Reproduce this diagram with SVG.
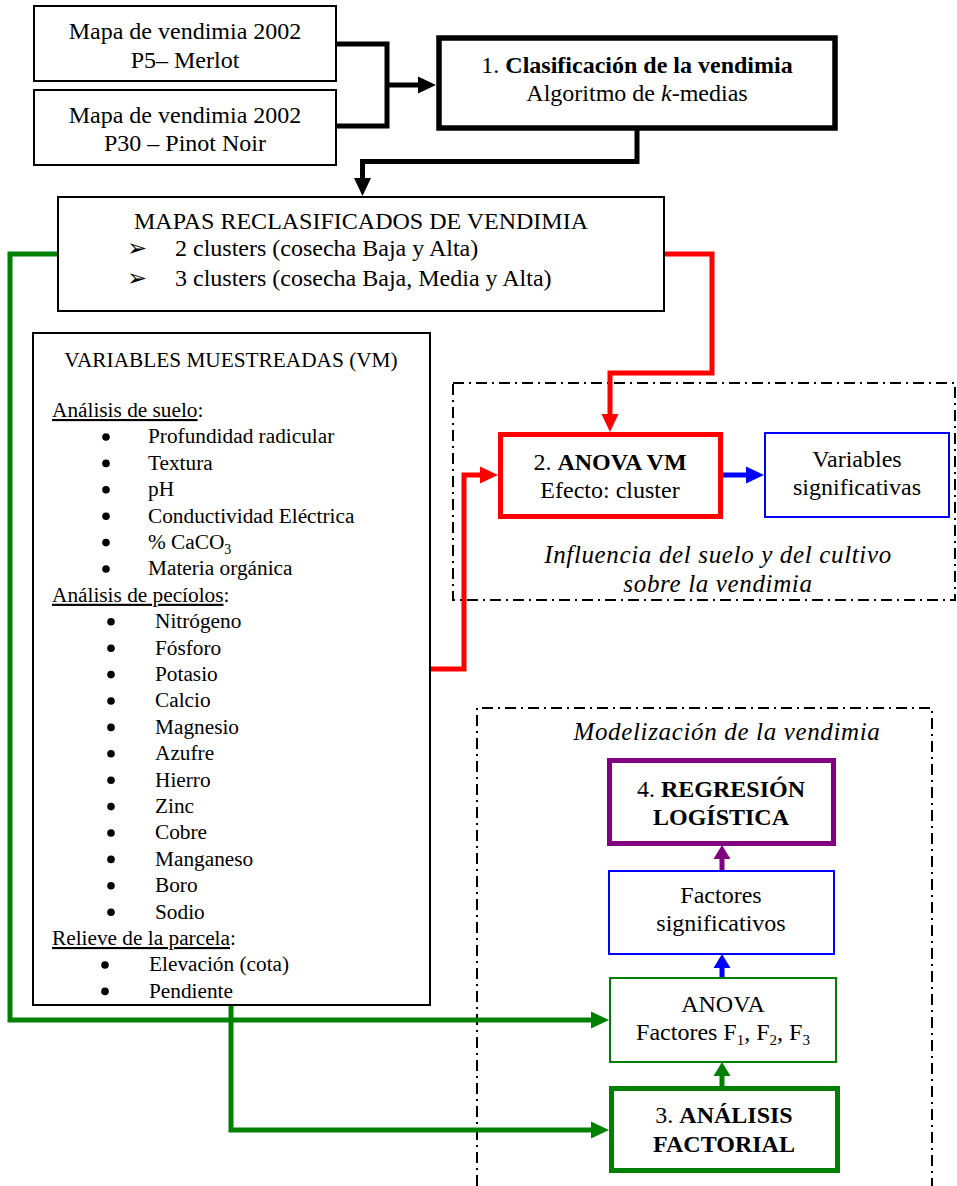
<svg xmlns="http://www.w3.org/2000/svg" width="957" height="1186" viewBox="0 0 957 1186">
<style>
.t{font-family:"Liberation Serif","Times New Roman",serif;font-size:24px;fill:#000}
.c{text-anchor:middle}
.l{font-size:21.3px}
.b{font-weight:bold}
.i{font-style:italic;font-size:25px;letter-spacing:0.65px}
.k{font-style:italic}
.u{text-decoration:underline}
.box{fill:#fff;stroke:#000;stroke-width:2}
.thick{fill:#fff;stroke:#000;stroke-width:5.5}
.dd{fill:none;stroke:#000;stroke-width:2;stroke-dasharray:11 5 2 5}
.ln{fill:none;stroke-width:5}
.dot{fill:#000}
.arr{font-family:"DejaVu Sans",sans-serif;font-size:24px;fill:#000}
</style>
<defs>
<marker id="mk" markerUnits="userSpaceOnUse" markerWidth="18" markerHeight="17" refX="0" refY="8.5" orient="auto" overflow="visible"><path d="M0,0 L18,8.5 L0,17 z" fill="#000"/></marker>
<marker id="mr" markerUnits="userSpaceOnUse" markerWidth="18" markerHeight="17" refX="0" refY="8.5" orient="auto" overflow="visible"><path d="M0,0 L18,8.5 L0,17 z" fill="#FF0000"/></marker>
<marker id="mg" markerUnits="userSpaceOnUse" markerWidth="18" markerHeight="17" refX="0" refY="8.5" orient="auto" overflow="visible"><path d="M0,0 L18,8.5 L0,17 z" fill="#008000"/></marker>
<marker id="mb" markerUnits="userSpaceOnUse" markerWidth="18" markerHeight="17" refX="0" refY="8.5" orient="auto" overflow="visible"><path d="M0,0 L18,8.5 L0,17 z" fill="#0000FF"/></marker>
<marker id="mgs" markerUnits="userSpaceOnUse" markerWidth="14" markerHeight="17" refX="0" refY="8.5" orient="auto" overflow="visible"><path d="M0,0 L14,8.5 L0,17 z" fill="#008000"/></marker>
<marker id="mbs" markerUnits="userSpaceOnUse" markerWidth="14" markerHeight="17" refX="0" refY="8.5" orient="auto" overflow="visible"><path d="M0,0 L14,8.5 L0,17 z" fill="#0000FF"/></marker>
<marker id="mps" markerUnits="userSpaceOnUse" markerWidth="14" markerHeight="17" refX="0" refY="8.5" orient="auto" overflow="visible"><path d="M0,0 L14,8.5 L0,17 z" fill="#800080"/></marker>
</defs>
<rect width="957" height="1186" fill="#fff"/>

<!-- dash-dot frames -->
<g id="frames">
<rect class="dd" x="453" y="383" width="502" height="217"/>
<path class="dd" d="M477,1186 V708 H932 V1186"/>
</g>

<!-- connectors -->
<g id="connectors">
<path class="ln" stroke="#000" d="M336,44 H387 V126 H336"/>
<path class="ln" stroke="#000" d="M387,85 H418" marker-end="url(#mk)"/>
<path class="ln" stroke="#000" d="M637,130 V161.5 H362.5 V178" marker-end="url(#mk)"/>
<path class="ln" stroke="#FF0000" d="M664,254 H712 V373 H610 V414" marker-end="url(#mr)"/>
<path class="ln" stroke="#FF0000" d="M430,669 H464 V475 H480" marker-end="url(#mr)"/>
<path class="ln" stroke="#0000FF" d="M723,475 H746" marker-end="url(#mb)"/>
<path class="ln" stroke="#008000" d="M58,254 H10 V1020 H591" marker-end="url(#mg)"/>
<path class="ln" stroke="#008000" d="M231,1005 V1130 H591" marker-end="url(#mg)"/>
<path class="ln" stroke="#008000" d="M722,1086 V1076" marker-end="url(#mgs)"/>
<path class="ln" stroke="#0000FF" d="M722,978 V968" marker-end="url(#mbs)"/>
<path class="ln" stroke="#800080" d="M722,871 V859" marker-end="url(#mps)"/>
</g>

<g id="mapa-p5">
<rect class="box" x="34" y="6" width="302" height="75"/>
<text class="t c" x="185" y="39">Mapa de vendimia 2002</text>
<text class="t c" x="185" y="68">P5– Merlot</text>
</g>

<g id="mapa-p30">
<rect class="box" x="34" y="90" width="302" height="75"/>
<text class="t c" x="185" y="123">Mapa de vendimia 2002</text>
<text class="t c" x="185" y="151">P30 – Pinot Noir</text>
</g>

<g id="clasificacion">
<rect class="thick" x="439" y="38" width="396" height="90"/>
<text class="t c" x="637" y="73">1. <tspan class="b">Clasificación de la vendimia</tspan></text>
<text class="t c" x="637" y="101">Algoritmo de <tspan class="k">k</tspan>-medias</text>
</g>

<g id="mapas-reclasificados">
<rect class="box" x="58" y="197" width="606" height="114"/>
<text class="t c" x="361" y="229">MAPAS RECLASIFICADOS DE VENDIMIA</text>
<text class="arr" x="127" y="256">➢</text>
<text class="t" x="175" y="256">2 clusters (cosecha Baja y Alta)</text>
<text class="arr" x="127" y="286">➢</text>
<text class="t" x="175" y="286">3 clusters (cosecha Baja, Media y Alta)</text>
</g>

<g id="variables-muestreadas">
<rect class="box" x="33" y="333" width="397" height="672"/>
<text class="t l c" x="231" y="367">VARIABLES MUESTREADAS (VM)</text>
<text class="t l" x="52" y="417"><tspan class="u">Análisis de suelo</tspan>:</text>
<g class="dot">
<circle cx="106" cy="437" r="3.8"/><circle cx="106" cy="463.4" r="3.8"/><circle cx="106" cy="489.8" r="3.8"/>
<circle cx="106" cy="516.2" r="3.8"/><circle cx="106" cy="542.6" r="3.8"/><circle cx="106" cy="569" r="3.8"/>
<circle cx="111" cy="621.8" r="3.8"/><circle cx="111" cy="648.2" r="3.8"/><circle cx="111" cy="674.6" r="3.8"/>
<circle cx="111" cy="701" r="3.8"/><circle cx="111" cy="727.4" r="3.8"/><circle cx="111" cy="753.8" r="3.8"/>
<circle cx="111" cy="780.2" r="3.8"/><circle cx="111" cy="806.6" r="3.8"/><circle cx="111" cy="833" r="3.8"/>
<circle cx="111" cy="859.4" r="3.8"/><circle cx="111" cy="885.8" r="3.8"/><circle cx="111" cy="912.2" r="3.8"/>
<circle cx="105" cy="965" r="3.8"/><circle cx="105" cy="991.4" r="3.8"/>
</g>
<text class="t l" x="148" y="443.4">Profundidad radicular</text>
<text class="t l" x="148" y="469.8">Textura</text>
<text class="t l" x="148" y="496.2">pH</text>
<text class="t l" x="148" y="522.6">Conductividad Eléctrica</text>
<text class="t l" x="148" y="549">% CaCO<tspan dy="5" font-size="14">3</tspan></text>
<text class="t l" x="148" y="575.4">Materia orgánica</text>
<text class="t l" x="52" y="601.8"><tspan class="u">Análisis de pecíolos</tspan>:</text>
<text class="t l" x="155" y="628.2">Nitrógeno</text>
<text class="t l" x="155" y="654.6">Fósforo</text>
<text class="t l" x="155" y="681">Potasio</text>
<text class="t l" x="155" y="707.4">Calcio</text>
<text class="t l" x="155" y="733.8">Magnesio</text>
<text class="t l" x="155" y="760.2">Azufre</text>
<text class="t l" x="155" y="786.6">Hierro</text>
<text class="t l" x="155" y="813">Zinc</text>
<text class="t l" x="155" y="839.4">Cobre</text>
<text class="t l" x="155" y="865.8">Manganeso</text>
<text class="t l" x="155" y="892.2">Boro</text>
<text class="t l" x="155" y="918.6">Sodio</text>
<text class="t l" x="52" y="945"><tspan class="u">Relieve de la parcela</tspan>:</text>
<text class="t l" x="149" y="971.4">Elevación (cota)</text>
<text class="t l" x="149" y="997.8">Pendiente</text>
</g>

<g id="anova-vm">
<rect x="500.5" y="434.5" width="220" height="82" fill="#fff" stroke="#FF0000" stroke-width="5"/>
<text class="t c" x="610" y="470">2. <tspan class="b">ANOVA VM</tspan></text>
<text class="t c" x="610" y="498">Efecto: cluster</text>
</g>

<g id="variables-significativas">
<rect x="765" y="433" width="184" height="84" fill="#fff" stroke="#0000FF" stroke-width="2"/>
<text class="t c" x="857" y="467">Variables</text>
<text class="t c" x="857" y="495">significativas</text>
</g>

<g id="influencia-label">
<text class="t c i" x="718" y="563">Influencia del suelo y del cultivo</text>
<text class="t c i" x="718" y="592">sobre la vendimia</text>
</g>

<g id="modelizacion-label">
<text class="t c i" x="727" y="740">Modelización de la vendimia</text>
</g>

<g id="regresion-logistica">
<rect x="609.5" y="760.5" width="224" height="83" fill="#fff" stroke="#800080" stroke-width="5"/>
<text class="t c b" x="721" y="797"><tspan font-weight="normal">4. </tspan>REGRESIÓN</text>
<text class="t c b" x="721" y="825">LOGÍSTICA</text>
</g>

<g id="factores-significativos">
<rect x="609" y="871" width="225" height="83" fill="#fff" stroke="#0000FF" stroke-width="2"/>
<text class="t c" x="721" y="903">Factores</text>
<text class="t c" x="721" y="931">significativos</text>
</g>

<g id="anova-factores">
<rect x="610" y="978" width="226" height="84" fill="#fff" stroke="#008000" stroke-width="2"/>
<text class="t c" x="723" y="1012">ANOVA</text>
<text class="t c" x="723" y="1040">Factores F<tspan dy="5" font-size="15">1</tspan><tspan dy="-5">, F</tspan><tspan dy="5" font-size="15">2</tspan><tspan dy="-5">, F</tspan><tspan dy="5" font-size="15">3</tspan></text>
</g>

<g id="analisis-factorial">
<rect x="611.5" y="1088.5" width="226" height="82" fill="#fff" stroke="#008000" stroke-width="5"/>
<text class="t c b" x="724" y="1123"><tspan font-weight="normal">3. </tspan>ANÁLISIS</text>
<text class="t c b" x="724" y="1152">FACTORIAL</text>
</g>
</svg>
